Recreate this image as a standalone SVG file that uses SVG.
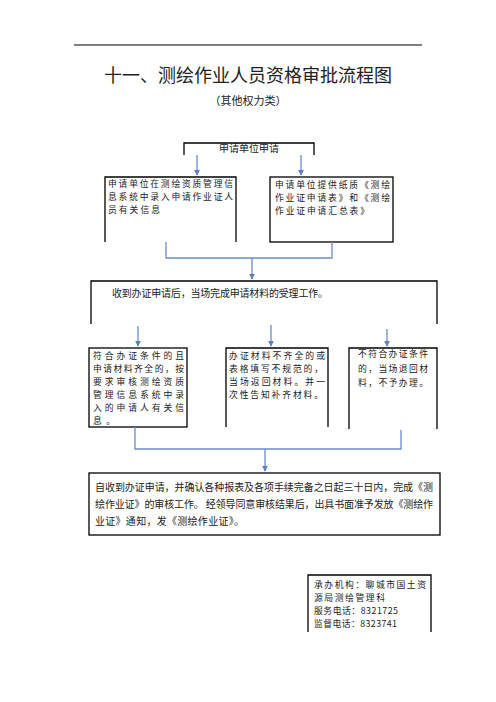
<svg xmlns="http://www.w3.org/2000/svg" width="496" height="702" viewBox="0 0 496 702">
<defs>
<marker id="ah" viewBox="0 0 8 8" refX="7" refY="4" markerWidth="6" markerHeight="6" orient="auto" markerUnits="userSpaceOnUse">
<path d="M0,0 L8,4 L0,8 z" fill="#5b80c0"/>
</marker>
</defs>
<style>
text{font-family:"Noto Sans CJK SC","Noto Sans",sans-serif;fill:#222;}
.t{font-size:10px;}
.s{font-size:8.8px;}
.box{fill:none;stroke:#000;stroke-width:1.3;}
.con{fill:none;stroke:#6a8cc6;stroke-width:1.3;}
.arr{fill:none;stroke:#6a8cc6;stroke-width:1.3;marker-end:url(#ah);}
</style>
<rect width="496" height="702" fill="#fff"/>
<line x1="74" y1="45" x2="422" y2="45" stroke="#000" stroke-width="1"/>
<text x="248" y="82" text-anchor="middle" style="font-size:18px">十一、测绘作业人员资格审批流程图</text>
<text x="248" y="105" text-anchor="middle" style="font-size:11px">（其他权力类）</text>

<g id="n_apply">
<path class="box" d="M184,155 V143 H314 V155"/>
<text class="t" x="249" y="152" text-anchor="middle">申请单位申请</text>
</g>
<g id="n_left">
<path class="box" d="M105,242 V177 H236 V242"/>
<text class="s" x="108" y="187" textLength="125" lengthAdjust="spacing">申请单位在测绘资质管理信</text>
<text class="s" x="108" y="200" textLength="125" lengthAdjust="spacing">息系统中录入申请作业证人</text>
<text class="s" x="108" y="213" textLength="52" lengthAdjust="spacing">员有关信息</text>
</g>
<g id="n_right">
<rect class="box" x="270" y="177" width="123" height="65"/>
<text class="s" x="275" y="188" textLength="115" lengthAdjust="spacing">申请单位提供纸质《测绘</text>
<text class="s" x="275" y="201" textLength="115" lengthAdjust="spacing">作业证申请表》和《测绘</text>
<text class="s" x="275" y="214" textLength="94" lengthAdjust="spacing">作业证申请汇总表》</text>
</g>
<g id="n_accept">
<path class="box" d="M91,324 V281 H437 V324"/>
<text class="t" x="112" y="297" textLength="216" lengthAdjust="spacing">收到办证申请后，当场完成申请材料的受理工作。</text>
</g>
<g id="n_ok">
<rect class="box" x="89" y="348" width="98" height="79"/>
<text class="s" x="93" y="359" textLength="91" lengthAdjust="spacing">符合办证条件的且</text>
<text class="s" x="93" y="372" textLength="91" lengthAdjust="spacing">申请材料齐全的，按</text>
<text class="s" x="93" y="385" textLength="91" lengthAdjust="spacing">要求审核测绘资质</text>
<text class="s" x="93" y="398" textLength="91" lengthAdjust="spacing">管理信息系统中录</text>
<text class="s" x="93" y="411" textLength="91" lengthAdjust="spacing">入的申请人有关信</text>
<text class="s" x="93" y="424" textLength="22" lengthAdjust="spacing">息。</text>
</g>
<g id="n_incomplete">
<path class="box" d="M226,427 V348 H328 V427"/>
<text class="s" x="229" y="359" textLength="96" lengthAdjust="spacing">办证材料不齐全的或</text>
<text class="s" x="229" y="372" textLength="94" lengthAdjust="spacing">表格填写不规范的，</text>
<text class="s" x="229" y="385" textLength="96" lengthAdjust="spacing">当场返回材料。并一</text>
<text class="s" x="229" y="398" textLength="94" lengthAdjust="spacing">次性告知补齐材料。</text>
</g>
<g id="n_reject">
<path class="box" d="M349,429 V348 H437 V429"/>
<text class="s" x="358" y="357" textLength="70" lengthAdjust="spacing">不符合办证条件</text>
<text class="s" x="358" y="372" textLength="70" lengthAdjust="spacing">的，当场退回材</text>
<text class="s" x="358" y="386" textLength="70" lengthAdjust="spacing">料，不予办理。</text>
</g>
<g id="n_final">
<rect class="box" x="89" y="473" width="351" height="62"/>
<text class="t" x="95" y="491" textLength="338" lengthAdjust="spacing">自收到办证申请，并确认各种报表及各项手续完备之日起三十日内，完成《测</text>
<text class="t" x="95" y="508" textLength="338" lengthAdjust="spacing">绘作业证》的审核工作。 经领导同意审核结果后，出具书面准予发放《测绘作</text>
<text class="t" x="95" y="525" textLength="149" lengthAdjust="spacing">业证》通知，发《测绘作业证》。</text>
</g>
<g id="n_contact">
<path class="box" d="M308,632 V575 H431 V632"/>
<text class="s" x="314" y="588" textLength="112" lengthAdjust="spacing">承办机构：聊城市国土资</text>
<text class="s" x="314" y="601" textLength="71" lengthAdjust="spacing">源局测绘管理科</text>
<text class="s" x="314" y="614" textLength="84" lengthAdjust="spacing">服务电话：8321725</text>
<text class="s" x="314" y="627" textLength="83" lengthAdjust="spacing">监督电话：8323741</text>
</g>

<g id="connectors">
<line class="arr" x1="197" y1="155" x2="197" y2="175"/>
<line class="arr" x1="301" y1="155" x2="301" y2="175"/>
<path class="con" d="M166,242 V258 H332 V242"/>
<line class="arr" x1="252" y1="258" x2="252" y2="279"/>
<line class="arr" x1="138" y1="326" x2="138" y2="346"/>
<line class="arr" x1="271" y1="325" x2="271" y2="346"/>
<line class="arr" x1="387" y1="329" x2="387" y2="346"/>
<path class="con" d="M135,427 V449 H401 V430"/>
<line class="arr" x1="265" y1="449" x2="265" y2="471"/>
</g>
</svg>
